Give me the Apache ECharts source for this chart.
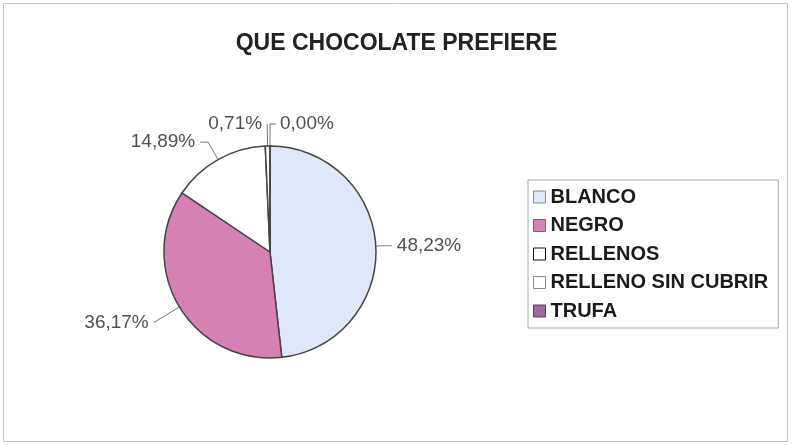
<!DOCTYPE html>
<html>
<head>
<meta charset="utf-8">
<script src="https://cdn.jsdelivr.net/npm/echarts@6/dist/echarts.min.js"></script>
<style>
  html, body { margin: 0; padding: 0; background: #ffffff; }
  #chart { width: 793px; height: 445px; }
</style>
</head>
<body>
<div id="chart"></div>
<script>
// ---- data ----
var chartTitle = 'QUE CHOCOLATE PREFIERE';
var categories = ['BLANCO', 'NEGRO', 'RELLENOS', 'RELLENO SIN CUBRIR', 'TRUFA'];
var percentages = [48.23, 36.17, 14.89, 0.71, 0.00];

// ---- styling (not data) ----
var fillColors = ['#dde9f9', '#d680b4', '#ffffff', '#ffffff', '#9c6aa0'];
var legendBorders = ['#7f8c9c', '#8c5a78', '#111111', '#8a8a8a', '#5a3a60'];
var labelLines = [
  { length: 6, length2: 10 },
  { length: 30, length2: 0 },
  { length: 20, length2: 8 },
  { length: 22, length2: 0 },
  { length: 22, length2: 6 }
];
var labelFont = 'Liberation Sans, Arial, sans-serif';
var labelColor = '#505050';
var lineColor = '#777777';

function fmt(v) { return v.toFixed(2).replace('.', ',') + '%'; }

var seriesData = categories.map(function (name, i) {
  return {
    name: name,
    value: percentages[i],
    itemStyle: { color: fillColors[i] },
    labelLine: labelLines[i],
    label: { show: true }
  };
});

var legendData = categories.map(function (name, i) {
  return { name: name, itemStyle: { color: fillColors[i], borderColor: legendBorders[i], borderWidth: 1 } };
});

var chart = echarts.init(document.getElementById('chart'), null, { renderer: 'canvas' });
chart.setOption({
  animation: false,
  backgroundColor: '#ffffff',
  graphic: [{
    id: 'frame',
    type: 'rect',
    shape: { x: 3.5, y: 3.5, width: 784, height: 438 },
    style: { fill: 'none', stroke: '#c4c4c4', lineWidth: 1 },
    silent: true
  }],
  title: {
    text: chartTitle,
    left: 'center',
    top: 27,
    textStyle: { fontFamily: labelFont, fontSize: 23, fontWeight: 'bold', color: '#222222' }
  },
  legend: {
    orient: 'vertical',
    left: 528,
    top: 180,
    data: legendData,
    icon: 'rect',
    itemWidth: 12,
    itemHeight: 12,
    itemGap: 8.5,
    padding: [7, 10, 7, 5],
    backgroundColor: '#ffffff',
    borderColor: '#a8a8a8',
    borderWidth: 1,
    borderRadius: 0,
    selectedMode: false,
    textStyle: { fontFamily: labelFont, fontSize: 20, fontWeight: 'bold', color: '#1a1a1a' }
  },
  series: [{
    type: 'pie',
    center: [270, 252],
    radius: 106,
    startAngle: 90,
    clockwise: true,
    minShowLabelAngle: 0,
    avoidLabelOverlap: false,
    data: seriesData,
    itemStyle: { borderColor: '#444444', borderWidth: 1.5 },
    label: {
      show: true,
      position: 'outside',
      formatter: function (p) { return fmt(p.value); },
      fontFamily: labelFont,
      fontSize: 19,
      color: labelColor
    },
    labelLine: {
      show: true,
      lineStyle: { color: lineColor, width: 1 }
    },
    emphasis: { disabled: true }
  }]
});

// ECharts does not draw labels for zero-angle sectors; add them from the library's own sector layout.
(function () {
  var data = chart.getModel().getSeriesByIndex(0).getData();
  var extra = [];
  for (var i = 0; i < percentages.length; i++) {
    if (percentages[i] !== 0) continue;
    var lay = data.getItemLayout(i);
    if (!lay) continue;
    var mid = (lay.startAngle + lay.endAngle) / 2;
    var c = Math.cos(mid), s = Math.sin(mid);
    var dir = c > -1e-6 ? 1 : -1;
    var L1 = labelLines[i].length, L2 = labelLines[i].length2;
    var x1 = lay.cx + lay.r * c, y1 = lay.cy + lay.r * s;
    var x2 = x1 + L1 * c, y2 = y1 + L1 * s;
    var x3 = x2 + dir * L2;
    extra.push({
      type: 'polyline', silent: true,
      shape: { points: [[x1, y1], [x2, y2], [x3, y2]] },
      style: { stroke: lineColor, lineWidth: 1, fill: 'none' }
    });
    extra.push({
      type: 'text', silent: true, x: x3 + dir * 4, y: y2,
      style: {
        text: fmt(percentages[i]), font: '19px ' + labelFont, fill: labelColor,
        align: dir > 0 ? 'left' : 'right', verticalAlign: 'middle'
      }
    });
  }
  if (extra.length) {
    chart.setOption({ graphic: [{ id: 'frame', type: 'rect', shape: { x: 3.5, y: 3.5, width: 784, height: 438 }, style: { fill: 'none', stroke: '#c4c4c4', lineWidth: 1 }, silent: true }].concat(extra) });
  }
})();
</script>
</body>
</html>
